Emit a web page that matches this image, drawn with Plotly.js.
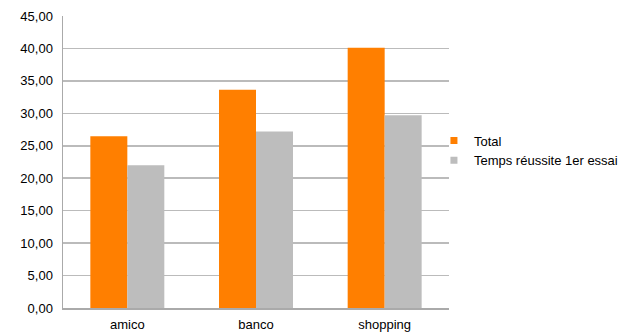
<!DOCTYPE html>
<html><head><meta charset="utf-8">
<script src="https://cdn.plot.ly/plotly-3.0.1.min.js"></script>
<style>html,body{margin:0;padding:0;background:#fff}#c{width:638px;height:332px}</style>
</head><body><div id="c"></div>
<script>
const categories = ["amico", "banco", "shopping"];
const totalValues = [26.45, 33.65, 40.1];
const firstTryValues = [22.0, 27.2, 29.7];
const seriesNames = ["Total", "Temps réussite 1er essai"];
const seriesColors = ["#ff7f00", "#bdbdbd"];
const yTicks = [0, 5, 10, 15, 20, 25, 30, 35, 40, 45];

const data = [
  {type: "bar", x: categories, y: totalValues, name: seriesNames[0],
   marker: {color: seriesColors[0]}, showlegend: false, legendgroup: "a"},
  {type: "bar", x: categories, y: firstTryValues, name: seriesNames[1],
   marker: {color: seriesColors[1]}, showlegend: false, legendgroup: "b"},
  // legend-only entries with small square keys
  {type: "scatter", mode: "markers", x: [null], y: [null], name: seriesNames[0],
   marker: {symbol: "square", size: 7, color: seriesColors[0]}, legendgroup: "a", hoverinfo: "skip"},
  {type: "scatter", mode: "markers", x: [null], y: [null], name: seriesNames[1],
   marker: {symbol: "square", size: 7, color: seriesColors[1]}, legendgroup: "b", hoverinfo: "skip"}
];
const layout = {
  width: 638, height: 332,
  margin: {l: 63, r: 189, t: 16, b: 24},
  paper_bgcolor: "#fff", plot_bgcolor: "#fff",
  separators: ", ",
  font: {family: "Liberation Sans, Arial, sans-serif", size: 13, color: "#000"},
  barmode: "group", bargap: 0.425, bargroupgap: 0,
  xaxis: {type: "category", showline: true, linecolor: "#aaaaaa", linewidth: 1.5, ticks: "",
          tickfont: {size: 13}, showgrid: false, ticklabelstandoff: 4},
  yaxis: {range: [0, 45], tickvals: yTicks, tickformat: ".2f", showline: true,
          linecolor: "#aaaaaa", linewidth: 1.5, gridcolor: "#bbbbbb", gridwidth: 1.5,
          zeroline: false, ticks: "", ticklen: 0, tickfont: {size: 13}, ticklabelstandoff: 6},
  legend: {x: 0.961, y: 0.625, xanchor: "left", yanchor: "top",
           font: {size: 13}, itemwidth: 30, tracegroupgap: 0, bgcolor: "rgba(0,0,0,0)"},
  showlegend: true
};
Plotly.newPlot("c", data, layout, {displayModeBar: false, staticPlot: true});
</script></body></html>
